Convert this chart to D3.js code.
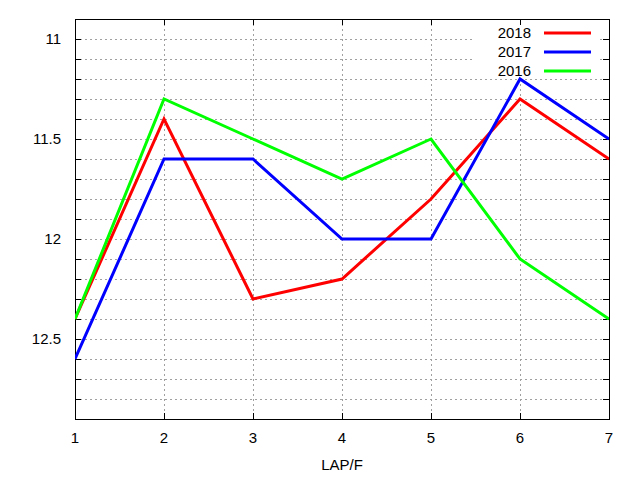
<!DOCTYPE html>
<html>
<head>
<meta charset="utf-8">
<script src="https://cdn.jsdelivr.net/npm/d3@7"></script>
<style>
  body { margin: 0; background: #fff; }
</style>
</head>
<body>
<script>
const laps = [1, 2, 3, 4, 5, 6, 7];
const years = ["2018", "2017", "2016"];
const colors = ["#ff0000", "#0000ff", "#00ff00"];
const v2018 = [12.4, 11.4, 12.3, 12.2, 11.8, 11.3, 11.6];
const v2017 = [12.6, 11.6, 11.6, 12.0, 12.0, 11.2, 11.5];
const v2016 = [12.4, 11.3, 11.5, 11.7, 11.5, 12.1, 12.4];
const yTicks = [11, 11.5, 12, 12.5];
const yGrid = [11, 11.1, 11.2, 11.3, 11.4, 11.5, 11.6, 11.7, 11.8, 11.9, 12, 12.1, 12.2, 12.3, 12.4, 12.5, 12.6, 12.7, 12.8];

const series = [v2018, v2017, v2016];

let canvasW = 640;
let canvasH = 480;
let margin = ({top: 19, right: 31, bottom: 61, left: 75});

let xScale = d3.scaleLinear()
  .domain([1, 7])
  .range([margin.left, canvasW - margin.right]);
let yScale = d3.scaleLinear()
  .domain([10.9, 12.9])
  .range([margin.top, canvasH - margin.bottom]);

let svg = d3.select("body")
  .append("svg")
    .attr("width", canvasW)
    .attr("height", canvasH)
    .style("font-family", "'Liberation Sans', Arial, sans-serif");

// grid
svg.append("g")
  .selectAll("line")
  .data(yGrid)
  .join("line")
    .attr("x1", margin.left)
    .attr("x2", canvasW - margin.right)
    .attr("y1", d => yScale(d) + 0.5)
    .attr("y2", d => yScale(d) + 0.5)
    .attr("stroke", "#a0a0a0")
    .attr("stroke-dasharray", "2,3");

svg.append("g")
  .selectAll("line")
  .data(laps.slice(1, -1))
  .join("line")
    .attr("x1", d => xScale(d) + 0.5)
    .attr("x2", d => xScale(d) + 0.5)
    .attr("y1", margin.top)
    .attr("y2", canvasH - margin.bottom)
    .attr("stroke", "#a0a0a0")
    .attr("stroke-dasharray", "2,3");

// legend background clears the grid
svg.append("rect")
  .attr("x", 475)
  .attr("y", 24)
  .attr("width", 124)
  .attr("height", 54)
  .attr("fill", "white");

// axes with ticks on all sides
let axLeft = svg.append("g")
  .attr("transform", `translate(${margin.left},0)`)
  .call(d3.axisRight(yScale).tickValues(yGrid).tickSize(6).tickFormat(""));
let axRight = svg.append("g")
  .attr("transform", `translate(${canvasW - margin.right},0)`)
  .call(d3.axisLeft(yScale).tickValues(yGrid).tickSize(6).tickFormat(""));
let axBottom = svg.append("g")
  .attr("transform", `translate(0,${canvasH - margin.bottom})`)
  .call(d3.axisTop(xScale).tickValues(laps).tickSize(6).tickFormat(""));
let axTop = svg.append("g")
  .attr("transform", `translate(0,${margin.top})`)
  .call(d3.axisBottom(xScale).tickValues(laps).tickSize(6).tickFormat(""));
[axLeft, axRight, axBottom, axTop].forEach(g => {
  g.select(".domain").remove();
  g.selectAll("line").attr("stroke", "black");
});

svg.append("rect")
  .attr("x", margin.left + 0.5)
  .attr("y", margin.top + 0.5)
  .attr("width", canvasW - margin.left - margin.right)
  .attr("height", canvasH - margin.top - margin.bottom)
  .attr("fill", "none")
  .attr("stroke", "black");

// tick labels
svg.append("g")
  .selectAll("text")
  .data(yTicks)
  .join("text")
    .attr("x", 61)
    .attr("y", d => yScale(d))
    .attr("dy", "0.35em")
    .attr("text-anchor", "end")
    .attr("font-size", "15px")
    .text(d => d);

svg.append("g")
  .selectAll("text")
  .data(laps)
  .join("text")
    .attr("x", d => xScale(d))
    .attr("y", 443)
    .attr("text-anchor", "middle")
    .attr("font-size", "15px")
    .text(d => d);

svg.append("text")
  .attr("x", (margin.left + canvasW - margin.right) / 2)
  .attr("y", 470)
  .attr("text-anchor", "middle")
  .attr("font-size", "15px")
  .text("LAP/F");

// lines
let line = d3.line()
  .x((d, i) => xScale(laps[i]))
  .y(d => yScale(d));

let plot = svg.append("g");
plot.append("clipPath").attr("id", "clip")
  .append("rect")
    .attr("x", margin.left)
    .attr("y", margin.top)
    .attr("width", canvasW - margin.left - margin.right)
    .attr("height", canvasH - margin.top - margin.bottom);

// legend
years.forEach((y, i) => {
  let ly = 33 + i * 19;
  svg.append("text")
    .attr("x", 531)
    .attr("y", ly)
    .attr("dy", "0.35em")
    .attr("text-anchor", "end")
    .attr("font-size", "15px")
    .text(y);
  svg.append("line")
    .attr("x1", 544)
    .attr("x2", 591)
    .attr("y1", ly)
    .attr("y2", ly)
    .attr("stroke", colors[i])
    .attr("stroke-width", 3);
});

series.forEach((s, i) => {
  plot.append("path")
    .datum(s)
    .attr("d", line)
    .attr("fill", "none")
    .attr("stroke", colors[i])
    .attr("stroke-width", 3)
    .attr("clip-path", "url(#clip)");
});
</script>
</body>
</html>
